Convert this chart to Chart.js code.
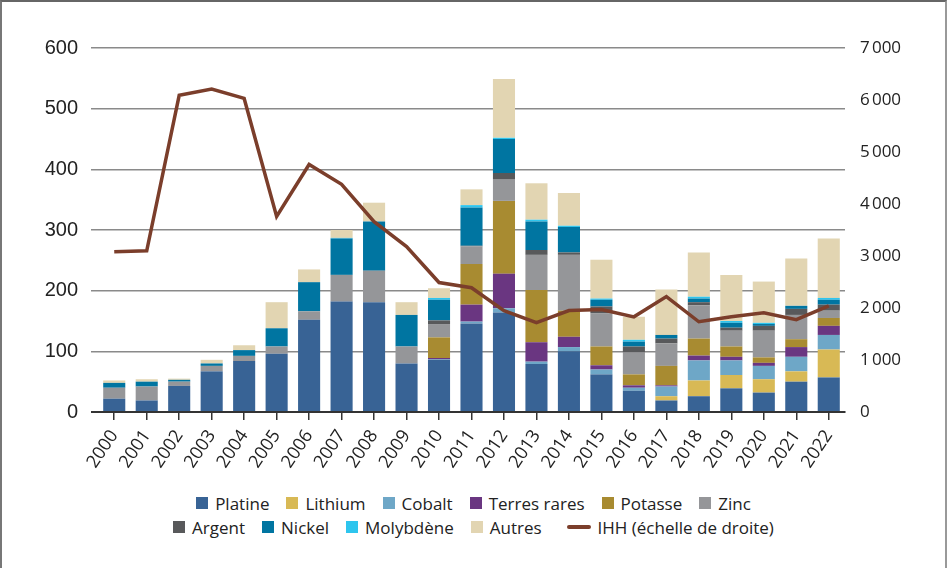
<!DOCTYPE html>
<html>
<head>
<meta charset="utf-8">
<script src="https://cdn.jsdelivr.net/npm/chart.js@4.4.1/dist/chart.umd.min.js"></script>
<style>
  html, body { margin: 0; padding: 0; background: #fff; }
  #frame {
    position: relative; width: 947px; height: 568px; box-sizing: border-box;
    border-top: 2px solid #666; border-left: 2px solid #777; border-right: 2px solid #999;
    overflow: hidden;
  }
  #chart-box { position: absolute; left: -2px; top: -2px; width: 947px; height: 490px; }
  #legend {
    position: absolute; left: 0; top: 489px; width: 943px;
    font-family: "Open Sans", "Noto Sans", sans-serif; font-size: 17px; color: #222;
  }
  .row { display: flex; justify-content: center; gap: 17px; height: 24px; align-items: center; }
  .item { display: flex; align-items: center; gap: 7px; white-space: nowrap; }
  .sq { width: 12px; height: 12px; display: inline-block; }
  .ln { width: 24px; height: 4px; border-radius: 2px; display: inline-block; margin-left: 8px; }
</style>
</head>
<body>
<div id="frame">
  <div id="chart-box"><canvas id="chart"></canvas></div>
  <div id="legend"></div>
</div>
<script>
// Categories
const years = ['2000','2001','2002','2003','2004','2005','2006','2007','2008','2009','2010',
  '2011','2012','2013','2014','2015','2016','2017','2018','2019','2020','2021','2022'];

// Stacked series (left axis)
const platine     = [22, 19, 43, 67, 84, 96, 152, 182, 181, 80, 86, 146, 164, 79, 100, 62, 35, 19, 26, 39, 32, 50, 57];
const lithium     = [0, 0, 0, 0, 0, 0, 0, 0, 0, 0, 0, 0, 0, 0, 0, 0, 0, 7, 26, 22, 22, 17, 46];
const cobalt      = [0, 0, 0, 0, 0, 0, 0, 0, 0, 0, 1, 3, 7, 4, 7, 8, 5, 16, 33, 24, 22, 24, 24];
const terresRares = [0, 0, 0, 0, 0, 0, 0, 0, 0, 0, 2, 28, 57, 32, 17, 7, 4, 2, 8, 6, 5, 16, 15];
const potasse     = [0, 0, 0, 0, 0, 0, 0, 0, 0, 0, 34, 67, 120, 86, 43, 31, 18, 32, 28, 17, 9, 13, 13];
const zinc        = [18, 23, 7, 9, 8.5, 12, 14, 44, 52, 28, 22, 29, 35, 58, 92, 55, 36, 37, 55, 26, 44, 40, 12];
const argent      = [0, 0, 0, 0, 0, 0, 0, 0, 0, 0, 6, 1, 11, 8, 4, 11, 10, 8, 5, 5, 8, 10, 10];
const nickel      = [8, 8, 3, 4, 9.5, 30, 48, 60, 81, 52, 34, 63, 56, 47, 42, 11, 8, 6, 6, 8, 3, 5, 8];
const molybdene   = [0, 0, 0, 0, 0, 0, 0, 1, 0, 0, 3, 4, 2, 3, 2, 2, 3, 0, 3, 3, 2, 0, 3];
const autres      = [4, 4, 2, 6, 8, 43, 21, 13, 31, 21, 16, 26, 97, 60, 54, 64, 38, 75, 73, 76, 68, 78, 98];

// IHH (right axis)
const ihh = [3080, 3100, 6090, 6210, 6030, 3760, 4760, 4380, 3660, 3180, 2490, 2390,
  1950, 1720, 1950, 1970, 1830, 2220, 1735, 1830, 1910, 1775, 2040];

// Tick values
const leftTicks = [0, 100, 200, 300, 400, 500, 600];
const rightTicks = [0, 1000, 2000, 3000, 4000, 5000, 6000, 7000];

const barSeries = [
  ['Platine', platine, '#386395'],
  ['Lithium', lithium, '#d8b955'],
  ['Cobalt', cobalt, '#6ea7c7'],
  ['Terres rares', terresRares, '#6a3681'],
  ['Potasse', potasse, '#a88b31'],
  ['Zinc', zinc, '#959699'],
  ['Argent', argent, '#58595b'],
  ['Nickel', nickel, '#0075a1'],
  ['Molybdène', molybdene, '#2ec5ee'],
  ['Autres', autres, '#e2d5b2']
];
const lineColor = '#7b3e2b';

const datasets = barSeries.map(function(s) {
  return {
    type: 'bar', label: s[0], data: s[1], backgroundColor: s[2],
    borderWidth: 0, yAxisID: 'y', stack: 'm', order: 1,
    categoryPercentage: 1, barPercentage: 0.68
  };
});
datasets.push({
  type: 'line', label: 'IHH (échelle de droite)', data: ihh, yAxisID: 'y2',
  borderColor: lineColor, backgroundColor: lineColor, borderWidth: 3.5,
  pointRadius: 0, tension: 0, order: 0
});

// thousands with a narrow space, like "7 000"
function spaced(v) {
  return String(v).replace(/\B(?=(\d{3})+(?!\d))/g, '\u202f');
}

new Chart(document.getElementById('chart'), {
  data: { labels: years, datasets: datasets },
  options: {
    responsive: true,
    maintainAspectRatio: false,
    animation: false,
    layout: { padding: { top: 48, left: 0, right: 0, bottom: 0 } },
    plugins: { legend: { display: false }, tooltip: { enabled: false } },
    scales: {
      x: {
        stacked: true,
        grid: { display: true, drawOnChartArea: false, offset: false, tickLength: 8, color: '#333', lineWidth: 1.5 },
        border: { display: true, color: '#333', width: 2 },
        ticks: {
          color: '#222', maxRotation: 56, minRotation: 56, padding: 6, autoSkip: false,
          font: { family: 'Open Sans', size: 18 }
        },
        afterFit: function(scale) { scale.height = 78; }
      },
      y: {
        stacked: true, min: 0, max: 600, position: 'left',
        afterBuildTicks: function(scale) { scale.ticks = leftTicks.map(v => ({ value: v })); },
        grid: {
          tickLength: 7,
          color: c => c.tick && c.tick.value === 0 ? '#333' : '#8a8a8a',
          lineWidth: c => c.tick && c.tick.value === 0 ? 2 : 1.5
        },
        border: { display: false },
        ticks: { color: '#222', padding: 13, font: { family: 'Liberation Sans', size: 20 } },
        afterFit: function(scale) { scale.width = 98; }
      },
      y2: {
        min: 0, max: 7000, position: 'right',
        afterBuildTicks: function(scale) { scale.ticks = rightTicks.map(v => ({ value: v })); },
        grid: { drawOnChartArea: false, drawTicks: false },
        border: { display: false },
        ticks: {
          color: '#222', padding: 15, font: { family: 'Open Sans', size: 17 },
          callback: v => spaced(v)
        },
        afterFit: function(scale) { scale.width = 102; }
      }
    }
  }
});

// Legend built from the dataset definitions, in two rows like the original
const legend = document.getElementById('legend');
const rows = [barSeries.slice(0, 6), barSeries.slice(6)];
rows.forEach(function(r, i) {
  const row = document.createElement('div');
  row.className = 'row';
  r.forEach(function(s) {
    const it = document.createElement('span');
    it.className = 'item';
    it.innerHTML = '<span class="sq" style="background:' + s[2] + '"></span>' + s[0];
    row.appendChild(it);
  });
  if (i === 1) {
    const it = document.createElement('span');
    it.className = 'item';
    it.innerHTML = '<span class="ln" style="background:' + lineColor + '"></span>IHH (échelle de droite)';
    row.appendChild(it);
  }
  legend.appendChild(row);
});
</script>
</body>
</html>
